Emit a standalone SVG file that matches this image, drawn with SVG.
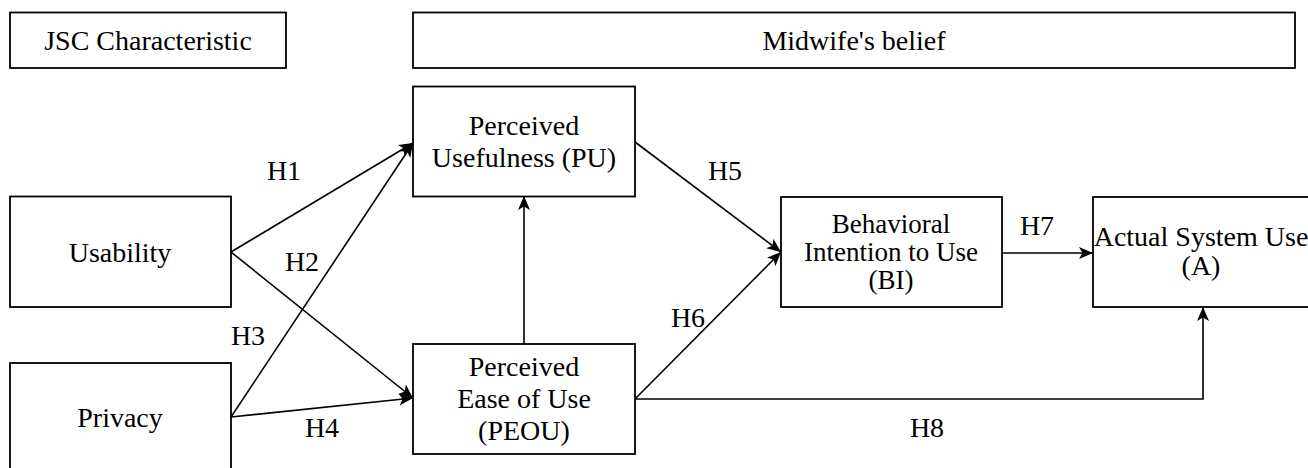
<svg xmlns="http://www.w3.org/2000/svg" width="1308" height="468" viewBox="0 0 1308 468">
<style>
.box{fill:#fff;stroke:#000;stroke-width:1.8}
.t{font-size:28px;fill:#000;text-anchor:middle}
.c{fill:none;stroke:#000;stroke-width:1.6;marker-end:url(#arr)}
</style>
<defs>
<marker id="arr" markerUnits="userSpaceOnUse" markerWidth="15" markerHeight="13" refX="14" refY="6.5" orient="auto">
<path d="M0,0.5 L14,6.5 L0,12.5 L3.5,6.5 Z" fill="#000"/>
</marker>
</defs>
<rect width="1308" height="468" fill="#fff"/>
<g font-family="Liberation Serif, Tinos, Times New Roman, Noto Serif, DejaVu Serif, serif">
<g id="jsc"><rect class="box" x="10" y="12.5" width="276" height="55.5"/><text class="t" x="148" y="50">JSC Characteristic</text></g>
<g id="belief"><rect class="box" x="413" y="12.5" width="882" height="55.5"/><text class="t" x="854" y="50">Midwife's belief</text></g>
<g id="connectors">
<line class="c" x1="231" y1="252" x2="413" y2="143"/>
<line class="c" x1="231" y1="417" x2="413" y2="143"/>
<line class="c" x1="231" y1="252" x2="413" y2="398"/>
<line class="c" x1="231" y1="417" x2="413" y2="398"/>
<line class="c" x1="524" y1="344" x2="524" y2="196"/>
<line class="c" x1="635" y1="142" x2="781" y2="252"/>
<line class="c" x1="635" y1="399" x2="781" y2="252"/>
<line class="c" x1="1002" y1="253" x2="1093" y2="253"/>
<polyline class="c" points="635,399 1203,399 1203,307"/>
<text class="t" x="284" y="180">H1</text>
<text class="t" x="302" y="271">H2</text>
<text class="t" x="248" y="345">H3</text>
<text class="t" x="322" y="437">H4</text>
<text class="t" x="725" y="180">H5</text>
<text class="t" x="688" y="327">H6</text>
<text class="t" x="1037" y="235">H7</text>
<text class="t" x="927" y="437">H8</text>
</g>
<g id="usability"><rect class="box" x="10" y="196.5" width="221" height="110.5"/><text class="t" x="120" y="262">Usability</text></g>
<g id="privacy"><rect class="box" x="10" y="363" width="221" height="120"/><text class="t" x="120" y="427">Privacy</text></g>
<g id="pu"><rect class="box" x="413" y="86.5" width="222" height="110"/><text class="t"><tspan x="524" y="135">Perceived</tspan><tspan x="524" y="167">Usefulness (PU)</tspan></text></g>
<g id="peou"><rect class="box" x="413" y="344" width="222" height="110"/><text class="t"><tspan x="524" y="376">Perceived</tspan><tspan x="524" y="408">Ease of Use</tspan><tspan x="524" y="440">(PEOU)</tspan></text></g>
<g id="bi"><rect class="box" x="781" y="197" width="221" height="110"/><text class="t" style="font-size:27px"><tspan x="891" y="233">Behavioral</tspan><tspan x="891" y="261">Intention to Use</tspan><tspan x="891" y="289">(BI)</tspan></text></g>
<g id="actual"><rect class="box" x="1093" y="197" width="220" height="110"/><text class="t"><tspan x="1201" y="246">Actual System Use</tspan><tspan x="1201" y="275">(A)</tspan></text></g>
</g>
</svg>
